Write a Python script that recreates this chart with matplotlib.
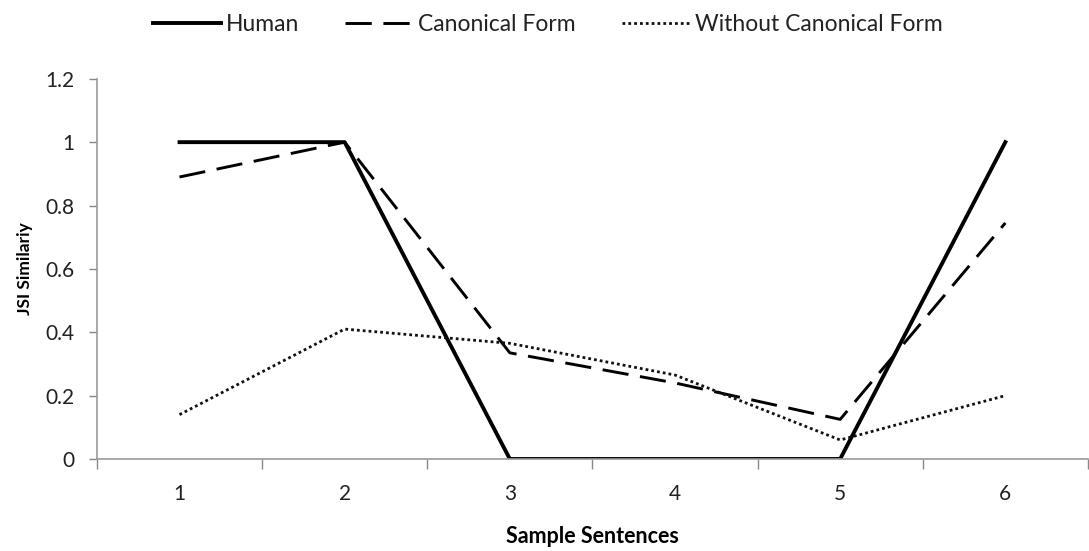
import matplotlib.pyplot as plt
import numpy as np

plt.rcParams['font.family'] = ['Lato', 'DejaVu Sans']
plt.rcParams['text.color'] = '#222222'

sentences = [1, 2, 3, 4, 5, 6]
human = [1.0, 1.0, 0.0, 0.0, 0.0, 1.0]
canonical = [0.89, 1.0, 0.335, 0.24, 0.125, 0.745]
without = [0.14, 0.41, 0.365, 0.265, 0.06, 0.2]

fig = plt.figure(figsize=(10.89, 5.51), dpi=100)
ax = fig.add_axes([0.089, 0.167, 0.910, 0.690])

x = np.arange(len(sentences)) + 1
ax.plot(x, human, color='black', lw=2.8, label='Human')
ax.plot(x, canonical, color='black', lw=2.1, dashes=(9, 4), label='Canonical Form')
ax.plot(x, without, color='#111111', lw=2.0, dashes=(1, 1.1), label='Without Canonical Form')

ax.set_xlim(0.5, 6.5)
ax.set_ylim(0, 1.2)
ax.set_yticks([0, 0.2, 0.4, 0.6, 0.8, 1.0, 1.2])
ax.set_yticklabels(['0', '0.2', '0.4', '0.6', '0.8', '1', '1.2'])
ax.set_xticks(x)
ax.set_xticklabels([str(s) for s in sentences])
ax.set_xticks(np.arange(0.5, 7, 1), minor=True)
ax.tick_params(axis='x', which='major', length=0, pad=18, labelsize=15, labelcolor='#222222')
ax.tick_params(axis='x', which='minor', length=7, color='#888888', width=1)
ax.tick_params(axis='y', length=6, color='#888888', width=1, labelsize=15, pad=10,
               labelcolor='#222222')

for s in ['top', 'right']:
    ax.spines[s].set_visible(False)
for s in ['left', 'bottom']:
    ax.spines[s].set_color('#999999')
    ax.spines[s].set_linewidth(1.2)

ax.set_xlabel('Sample Sentences', fontweight='bold', fontsize=15.5, labelpad=16)
ax.set_ylabel('JSI Similariy', fontweight='bold', fontsize=12.5, labelpad=9)

fig.legend(loc='upper center', bbox_to_anchor=(0.503, 1.012), ncol=3, frameon=False,
           fontsize=16.5, handlelength=3.0, columnspacing=2.0, handletextpad=0.2)

fig.savefig('out.png', dpi=100)
